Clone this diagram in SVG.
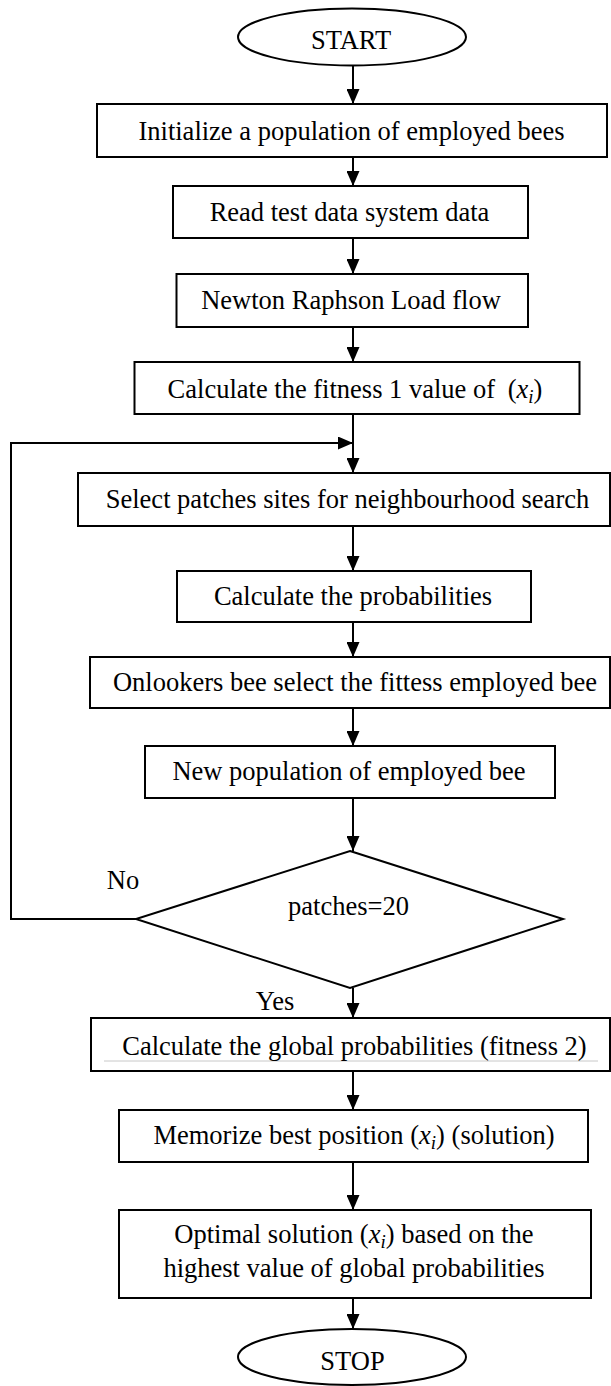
<svg xmlns="http://www.w3.org/2000/svg" width="611" height="1386" viewBox="0 0 611 1386">
<defs>
<style>
.n{fill:#fff;stroke:#000;stroke-width:2}
.t{font-family:"Liberation Serif","Times New Roman",serif;font-size:26.5px;fill:#000;text-anchor:middle}
.c{fill:none;stroke:#000;stroke-width:2}
.m{font-style:italic}
.s{font-style:italic;font-size:19px}
</style>
<marker id="ah" markerUnits="userSpaceOnUse" markerWidth="15" markerHeight="13" refX="15" refY="6.5" orient="auto">
<path d="M0,0 L15,6.5 L0,13 z" fill="#000"/>
</marker>
</defs>
<rect width="611" height="1386" fill="#fff"/>
<g id="connectors">
<line class="c" x1="353" y1="66" x2="353" y2="104" marker-end="url(#ah)"/>
<line class="c" x1="353" y1="157" x2="353" y2="186" marker-end="url(#ah)"/>
<line class="c" x1="353" y1="238" x2="353" y2="274" marker-end="url(#ah)"/>
<line class="c" x1="353" y1="327" x2="353" y2="362" marker-end="url(#ah)"/>
<line class="c" x1="353" y1="414" x2="353" y2="473" marker-end="url(#ah)"/>
<polyline class="c" points="136,919 11,919 11,443 353,443" marker-end="url(#ah)"/>
<line class="c" x1="353" y1="526" x2="353" y2="571" marker-end="url(#ah)"/>
<line class="c" x1="353" y1="622" x2="353" y2="657" marker-end="url(#ah)"/>
<line class="c" x1="353" y1="708" x2="353" y2="746" marker-end="url(#ah)"/>
<line class="c" x1="353" y1="798" x2="353" y2="851" marker-end="url(#ah)"/>
<line class="c" x1="353" y1="988" x2="353" y2="1018" marker-end="url(#ah)"/>
<line class="c" x1="353" y1="1071" x2="353" y2="1110" marker-end="url(#ah)"/>
<line class="c" x1="353" y1="1162" x2="353" y2="1210" marker-end="url(#ah)"/>
<line class="c" x1="353" y1="1298" x2="353" y2="1329" marker-end="url(#ah)"/>
<text class="t" x="123" y="889">No</text>
<text class="t" x="275" y="1010">Yes</text>
</g>
<g id="start">
<ellipse class="n" cx="352" cy="37" rx="114" ry="28.5"/>
<text class="t" x="351" y="49">START</text>
</g>
<g id="init">
<rect class="n" x="97" y="104" width="510" height="53"/>
<text class="t" x="351.5" y="140">Initialize a population of employed bees</text>
</g>
<g id="read">
<rect class="n" x="173" y="186" width="355" height="52"/>
<text class="t" x="349.5" y="221">Read test data system data</text>
</g>
<g id="newton">
<rect class="n" x="176.5" y="274" width="351.5" height="53"/>
<text class="t" x="351" y="309">Newton Raphson Load flow</text>
</g>
<g id="fitness1">
<rect class="n" x="134.5" y="362" width="445" height="52"/>
<text class="t" x="355" y="398">Calculate the fitness 1 value of <tspan dx="6">(</tspan><tspan class="m">x</tspan><tspan class="s" dy="5">i</tspan><tspan dy="-5">)</tspan></text>
</g>
<g id="select">
<rect class="n" x="78" y="473" width="532" height="53"/>
<text class="t" x="347.5" y="508">Select patches sites for neighbourhood search</text>
</g>
<g id="prob">
<rect class="n" x="177" y="571" width="354" height="51"/>
<text class="t" x="353" y="605">Calculate the probabilities</text>
</g>
<g id="onlookers">
<rect class="n" x="90" y="657" width="520" height="51"/>
<text class="t" x="355" y="691">Onlookers bee select the fittess employed bee</text>
</g>
<g id="newpop">
<rect class="n" x="145" y="746" width="410" height="52"/>
<text class="t" x="349" y="780">New population of employed bee</text>
</g>
<g id="decision">
<polygon class="n" points="350,851 563,919 350,988 136,919"/>
<text class="t" x="348.5" y="915">patches=20</text>
</g>
<g id="global">
<rect class="n" x="91" y="1018" width="519" height="53"/>
<line x1="104" y1="1061" x2="598" y2="1061" stroke="#c8c8c8" stroke-width="1"/>
<text class="t" x="354.5" y="1055">Calculate the global probabilities (fitness 2)</text>
</g>
<g id="memorize">
<rect class="n" x="119" y="1110" width="469" height="52"/>
<text class="t" x="354" y="1144">Memorize best position (<tspan class="m">x</tspan><tspan class="s" dy="5">i</tspan><tspan dy="-5">) (solution)</tspan></text>
</g>
<g id="optimal">
<rect class="n" x="119" y="1210" width="472" height="88"/>
<text class="t" x="354" y="1243">Optimal solution (<tspan class="m">x</tspan><tspan class="s" dy="5">i</tspan><tspan dy="-5">) based on the</tspan></text>
<text class="t" x="354" y="1277">highest value of global probabilities</text>
</g>
<g id="stop">
<ellipse class="n" cx="352" cy="1357" rx="114" ry="28"/>
<text class="t" x="352.5" y="1370">STOP</text>
</g>
</svg>
